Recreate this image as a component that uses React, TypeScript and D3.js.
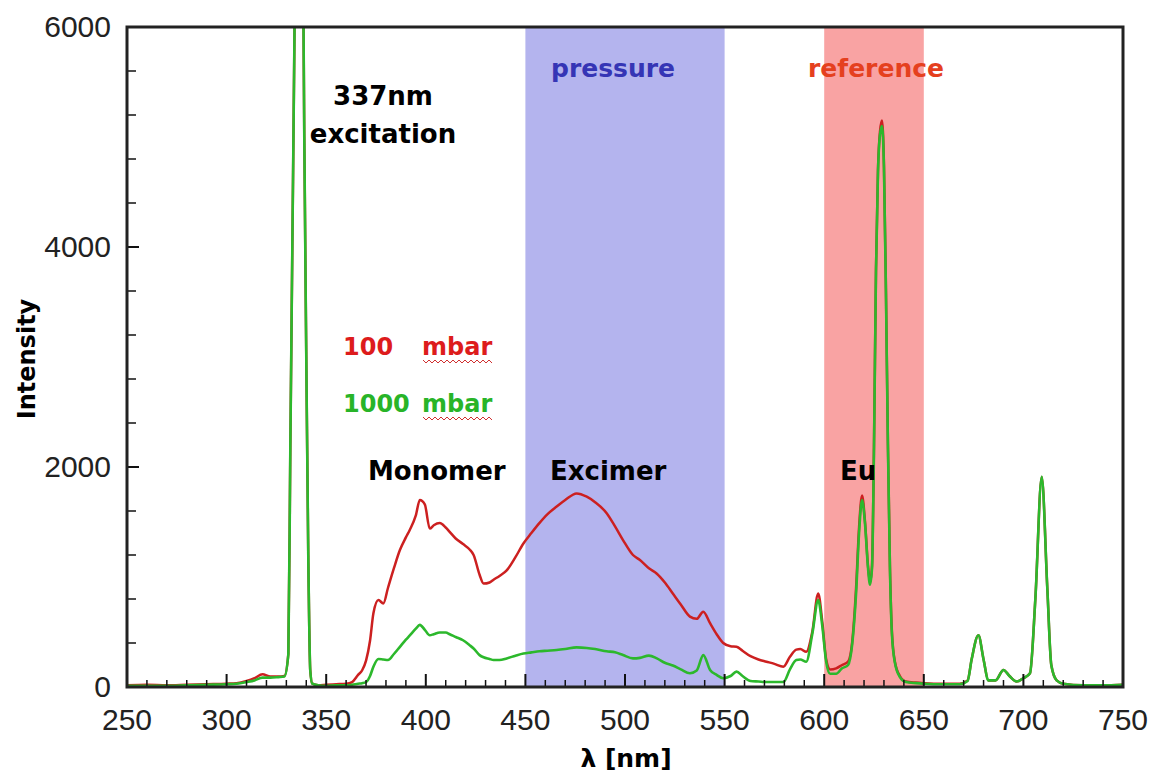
import React, { useEffect, useRef } from 'react';
import * as d3 from 'd3';

// wavelength grid (nm) shared by both spectra
const wavelength = [
  250, 260, 270, 280, 290, 300, 305, 310, 314, 318, 322, 326, 329, 331, 332, 333, 334, 335, 336.5, 338,
  339, 340, 341, 342, 343, 346, 350, 355, 360, 363, 366, 368, 370, 372, 373.7, 376.2, 378.7, 381, 384, 387,
  390, 392, 395, 397, 399.5, 402, 404, 407, 410, 412, 415, 418.7, 422, 424, 427, 429, 432, 434, 437, 440.6,
  445, 449, 453, 457, 461, 465.7, 470, 475.7, 480.8, 485, 490.8, 495, 499, 504, 507.5, 512, 516, 520, 524, 528,
  532.6, 536, 539.3, 542.7, 546, 549.3, 553, 556, 559, 563, 567, 571, 575, 579.5, 582.8, 586, 588, 591, 594, 597,
  599, 601, 603, 606, 609, 612, 614, 616, 617.5, 619, 620.5, 622, 623, 624, 625, 626, 627, 628, 629, 630,
  631, 632, 633, 634, 635.5, 638, 641, 646, 650, 660, 668, 672, 674, 677.4, 680, 682.4, 686, 690, 693, 696.6,
  700, 703.3, 706, 709.2, 712, 714, 716.7, 720, 730, 740, 750,
];

// 100 mbar (red)
const mbar100 = [
  15, 20, 15, 20, 25, 30, 35, 55, 80, 115, 95, 95, 100, 300, 2200, 4000, 5800, 7800, 10000, 7600,
  5000, 3000, 1200, 150, 30, 15, 20, 25, 30, 45, 110, 150, 240, 420, 670, 790, 760, 900, 1080, 1245,
  1360, 1430, 1560, 1700, 1660, 1440, 1470, 1490, 1450, 1410, 1350, 1300, 1250, 1200, 1020, 940, 950, 975, 1010, 1060,
  1180, 1305, 1400, 1490, 1570, 1640, 1700, 1760, 1730, 1680, 1580, 1460, 1336, 1200, 1155, 1080, 1030, 950, 850, 750,
  640, 620, 685, 580, 480, 400, 370, 365, 330, 280, 250, 230, 210, 185, 275, 340, 345, 320, 500, 850,
  600, 250, 160, 170, 200, 230, 400, 900, 1450, 1740, 1500, 1100, 950, 1100, 2200, 3800, 4700, 5050, 5150, 4750,
  3600, 2200, 1100, 500, 230, 100, 50, 40, 35, 30, 30, 60, 250, 470, 250, 60, 60, 155, 100, 50,
  80, 125, 800, 1910, 900, 200, 60, 30, 15, 15, 20,
];

// 1000 mbar (green)
const mbar1000 = [
  10, 12, 10, 15, 20, 25, 30, 45, 60, 85, 85, 90, 95, 300, 2200, 4000, 5800, 7800, 10000, 7600,
  5000, 3000, 1200, 150, 30, 15, 10, 15, 15, 20, 30, 35, 45, 100, 185, 255, 250, 245, 300, 365,
  430, 470, 530, 565, 520, 470, 480, 495, 495, 480, 455, 425, 380, 350, 290, 270, 255, 245, 245, 260,
  285, 305, 315, 325, 330, 336, 345, 360, 355, 345, 325, 315, 290, 260, 265, 285, 260, 220, 195, 160,
  125, 150, 290, 155, 110, 80, 100, 140, 100, 55, 50, 45, 45, 45, 160, 245, 250, 230, 480, 790,
  560, 230, 120, 120, 170, 200, 380, 850, 1400, 1700, 1480, 1080, 930, 1080, 2180, 3780, 4680, 5020, 5100, 4720,
  3580, 2180, 1080, 480, 220, 90, 45, 35, 30, 25, 25, 55, 250, 470, 250, 60, 60, 155, 100, 50,
  80, 125, 800, 1910, 900, 200, 60, 30, 15, 15, 20,
];

const xTicks = [250, 300, 350, 400, 450, 500, 550, 600, 650, 700, 750];
const yTicks = [0, 2000, 4000, 6000];

const bandStart = [450, 600];
const bandEnd = [550, 650];
const bandColor = ['#b4b4ee', '#f9a3a3'];
const bandLabel = ['pressure', 'reference'];
const bandLabelColor = ['#3535b5', '#e5401e'];

const peakLabels = ['Monomer', 'Excimer', 'Eu'];
const peakLabelX = [368, 550, 840];

const W = 1155;
const H = 773;

export default function App() {
  const svgRef = useRef<SVGSVGElement>(null);

  useEffect(() => {
    if (!svgRef.current) return;
    const svg = d3.select(svgRef.current);
    svg.selectAll('*').remove();

    const margin = { top: 27, right: 32, bottom: 86, left: 127 };
    const x = d3.scaleLinear().domain([250, 750]).range([margin.left, W - margin.right]);
    const y = d3.scaleLinear().domain([0, 6000]).range([H - margin.bottom, margin.top]);
    const [x0, x1] = x.range();
    const [yb, yt] = y.range();

    svg.append('rect').attr('width', W).attr('height', H).attr('fill', '#fff');

    // shaded bands
    bandStart.forEach((s, i) => {
      svg.append('rect')
        .attr('x', x(s))
        .attr('y', yt)
        .attr('width', x(bandEnd[i]) - x(s))
        .attr('height', yb - yt)
        .attr('fill', bandColor[i]);
    });

    svg.append('clipPath').attr('id', 'plot-clip')
      .append('rect')
      .attr('x', x0).attr('y', yt).attr('width', x1 - x0).attr('height', yb - yt);

    const line = d3.line<number>()
      .x((_, i) => x(wavelength[i]))
      .y(d => y(d))
      .curve(d3.curveMonotoneX);

    const g = svg.append('g').attr('clip-path', 'url(#plot-clip)');
    g.append('path').datum(mbar100)
      .attr('fill', 'none').attr('stroke', '#cc2020').attr('stroke-width', 2.5)
      .attr('stroke-linejoin', 'round').attr('d', line);
    g.append('path').datum(mbar1000)
      .attr('fill', 'none').attr('stroke', '#2cb82c').attr('stroke-width', 2.6)
      .attr('stroke-linejoin', 'round').attr('d', line);

    // ticks
    const tickColor = '#111';
    d3.range(250, 751, 10).forEach(v => {
      const major = v % 50 === 0;
      svg.append('line')
        .attr('x1', x(v)).attr('x2', x(v))
        .attr('y1', yb).attr('y2', yb - (major ? 13 : 7))
        .attr('stroke', tickColor).attr('stroke-width', major ? 2 : 1.5);
    });
    d3.range(0, 6001, 400).forEach(v => {
      const major = v % 2000 === 0;
      svg.append('line')
        .attr('x1', x0).attr('x2', x0 + (major ? 12 : 9))
        .attr('y1', y(v)).attr('y2', y(v))
        .attr('stroke', tickColor).attr('stroke-width', major ? 2 : 1.5);
    });

    // frame
    svg.append('rect')
      .attr('x', x0).attr('y', yt).attr('width', x1 - x0).attr('height', yb - yt)
      .attr('fill', 'none').attr('stroke', '#222').attr('stroke-width', 3);

    // tick labels
    const tickFont = '"Liberation Sans", Arial, sans-serif';
    svg.append('g').selectAll('text').data(xTicks).join('text')
      .attr('x', d => x(d)).attr('y', 730)
      .attr('text-anchor', 'middle')
      .attr('font-family', tickFont).attr('font-size', 30).attr('fill', '#222')
      .text(d => d);
    svg.append('g').selectAll('text').data(yTicks).join('text')
      .attr('x', 111).attr('y', d => y(d))
      .attr('dy', '0.33em')
      .attr('text-anchor', 'end')
      .attr('font-family', tickFont).attr('font-size', 30).attr('fill', '#222')
      .text(d => d);

    const bold = '"DejaVu Sans", Verdana, sans-serif';

    // axis titles
    svg.append('text')
      .attr('transform', `translate(35,359) rotate(-90)`)
      .attr('text-anchor', 'middle')
      .attr('font-family', bold).attr('font-weight', 'bold').attr('font-size', 24).attr('fill', '#000')
      .text('Intensity');
    svg.append('text')
      .attr('x', 626).attr('y', 767)
      .attr('text-anchor', 'middle')
      .attr('font-family', bold).attr('font-weight', 'bold').attr('font-size', 25).attr('fill', '#000')
      .text('λ [nm]');

    // band labels
    bandLabel.forEach((t, i) => {
      svg.append('text')
        .attr('x', i === 0 ? 613 : 876).attr('y', 77)
        .attr('text-anchor', 'middle')
        .attr('font-family', bold).attr('font-weight', 'bold').attr('font-size', 25)
        .attr('fill', bandLabelColor[i])
        .text(t);
    });

    // excitation label
    svg.append('text').attr('x', 383).attr('y', 105).attr('text-anchor', 'middle')
      .attr('font-family', bold).attr('font-weight', 'bold').attr('font-size', 26).attr('fill', '#000')
      .text('337nm');
    svg.append('text').attr('x', 383).attr('y', 143).attr('text-anchor', 'middle')
      .attr('font-family', bold).attr('font-weight', 'bold').attr('font-size', 26).attr('fill', '#000')
      .text('excitation');

    // peak labels
    peakLabels.forEach((t, i) => {
      svg.append('text').attr('x', peakLabelX[i]).attr('y', 480)
        .attr('font-family', bold).attr('font-weight', 'bold').attr('font-size', 26).attr('fill', '#000')
        .text(t);
    });

    // pressure legend
    const legend = [
      { num: '100', y: 355, color: '#dd1c1c' },
      { num: '1000', y: 412, color: '#28b428' },
    ];
    const squiggle = d3.line<number>()
      .x(d => d)
      .y((_, i) => (i % 2 === 0 ? 0 : 3));
    legend.forEach(l => {
      svg.append('text').attr('x', 343).attr('y', l.y)
        .attr('font-family', bold).attr('font-weight', 'bold').attr('font-size', 24).attr('fill', l.color)
        .text(l.num);
      svg.append('text').attr('x', 422).attr('y', l.y)
        .attr('font-family', bold).attr('font-weight', 'bold').attr('font-size', 24).attr('fill', l.color)
        .text('mbar');
      svg.append('path')
        .datum(d3.range(423, 495, 3))
        .attr('transform', `translate(0,${l.y + 5})`)
        .attr('fill', 'none').attr('stroke', '#d03030').attr('stroke-width', 1)
        .attr('d', squiggle);
    });
  }, []);

  return (
    <svg
      ref={svgRef}
      width={W}
      height={H}
      style={{ position: 'absolute', left: 0, top: 0 }}
    />
  );
}
